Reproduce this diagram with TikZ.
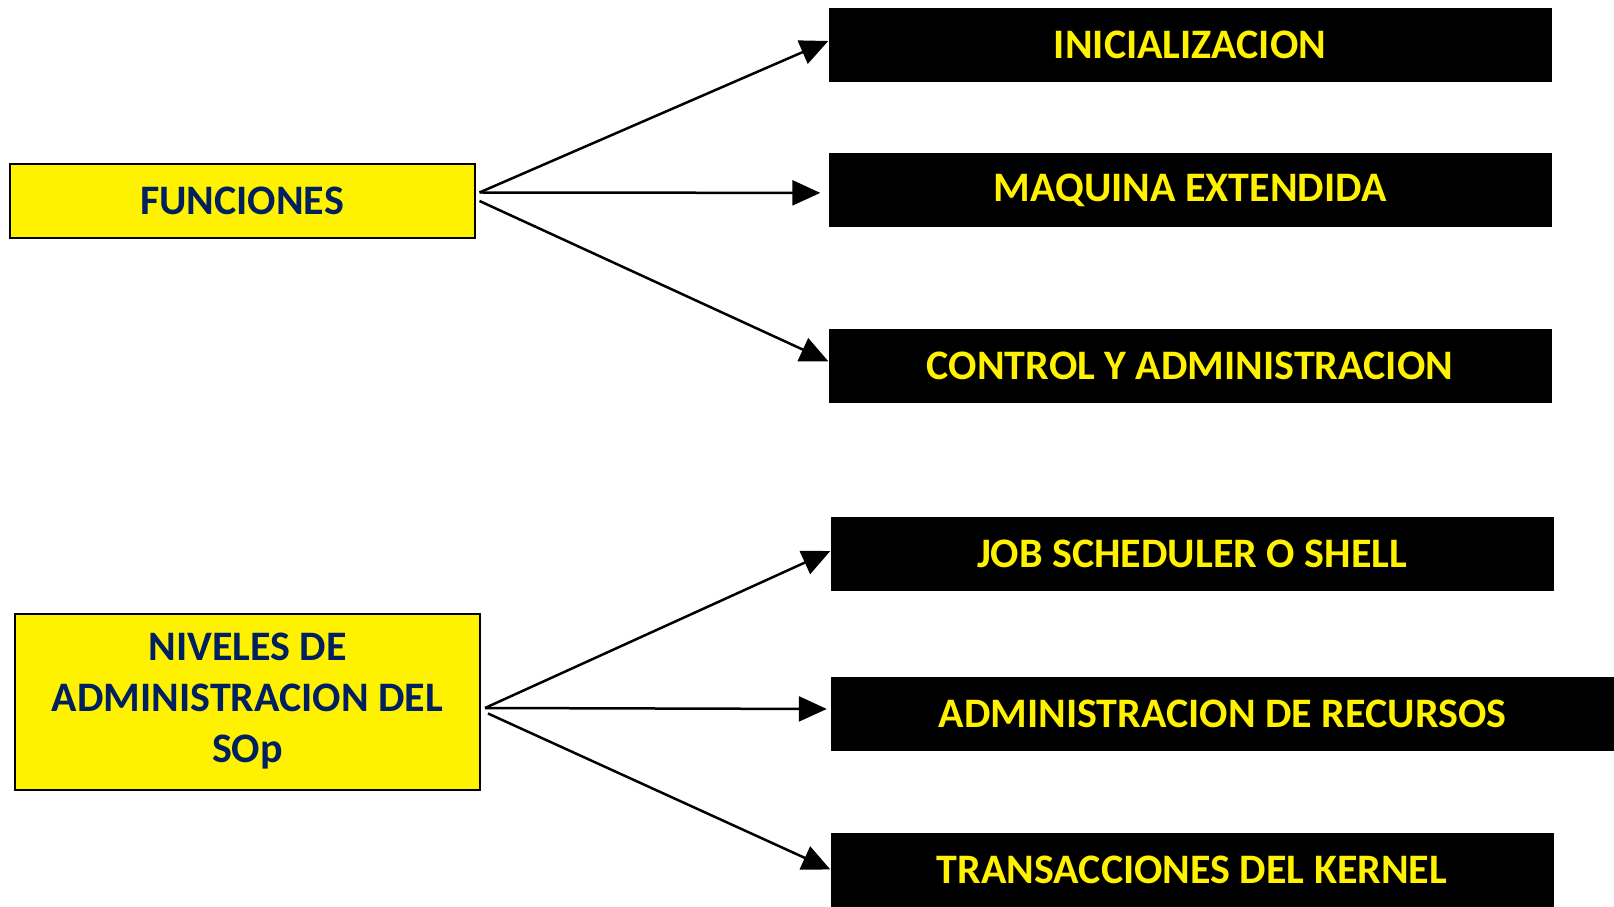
\documentclass[tikz,border=0pt]{standalone}
\usepackage{fontspec}
\setmainfont{Carlito}
\usetikzlibrary{positioning}
\usetikzlibrary{arrows.meta}

\definecolor{navy}{HTML}{002060}

\begin{document}
\begin{tikzpicture}[x=1pt,y=1pt,
  font=\fontsize{42}{51}\selectfont\bfseries,
  grupo/.style={draw=black,line width=2pt,fill=yellow,text=navy,align=center,inner sep=0pt,minimum width=465pt,minimum height=74pt},
  tarea/.style={fill=black,text=yellow,inner sep=0pt,minimum width=723pt,minimum height=74pt}]
  \useasboundingbox (0,0) rectangle (1614,906);

  % funciones
  \node[grupo] (fun) at (242,705) {FUNCIONES};
  \node[tarea] (inic) at (1190,861) {INICIALIZACION};
  \node[tarea, below=70.5 of inic] (maq) {MAQUINA EXTENDIDA};
  \node[tarea, below=102 of maq] (ctrl) {CONTROL Y ADMINISTRACION};

  % niveles
  \node[grupo, minimum height=176pt] (niv) at (247.5,204.5) {NIVELES DE\\ADMINISTRACION DEL\\SOp};
  \node[tarea] (job) at (1192,352) {JOB SCHEDULER O SHELL};
  \node[tarea, minimum width=783pt] (rec) at (1222.5,192) {ADMINISTRACION DE RECURSOS};
  \node[tarea] (ker) at (1192,36.5) {TRANSACCIONES DEL KERNEL};

  \path[-{Triangle[length=28pt,width=25pt]}, line width=2.5pt]
    ([shift={(4,8.5)}]fun.east) edge ([yshift=4]inic.west)
    ([shift={(4,8.5)}]fun.east) edge ([shift={(-8,-3)}]maq.west)
    ([shift={(4,0)}]fun.east) edge ([yshift=5]ctrl.west)
    ([shift={(4,-6.5)}]niv.east) edge ([yshift=3]job.west)
    ([shift={(4,-6.5)}]niv.east) edge ([shift={(-4,5)}]rec.west)
    ([shift={(7,-12)}]niv.east) edge (ker.west);
\end{tikzpicture}
\end{document}
